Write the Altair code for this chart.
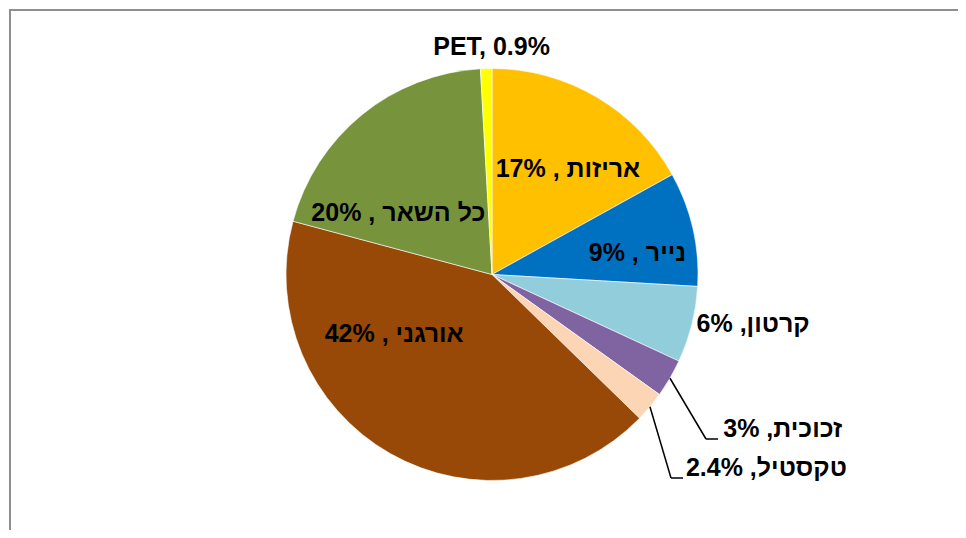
import math
import altair as alt
import pandas as pd

# ---- data ----
categories = ["אריזות", "נייר", "קרטון", "זכוכית", "טקסטיל", "אורגני", "כל השאר", "PET"]
values = [17, 9, 6, 3, 2.4, 42, 20, 0.9]
label_texts = [
    "17% , אריזות",
    "9% , נייר",
    "6% ,קרטון",
    "3% ,זכוכית",
    "2.4% ,טקסטיל",
    "42% , אורגני",
    "20% , כל השאר",
    "PET, 0.9%",
]
colors = ["#FFC000", "#0070C0", "#92CDDC", "#8064A2", "#FCD5B5", "#984807", "#77933C", "#FFFF00"]

# ---- layout ----
W, H = 950, 522
CX, CY, R = 483, 265.5, 206
FONT = "Liberation Sans"
FS = 25
# label placement: (radius from centre along slice mid-angle, dx, dy)
label_pos = {
    "אריזות": (120, 15, -2),
    "נייר": (145, 4, 11),
    "קרטון": (262, 7, -14),
    "זכוכית": (230, 92, 39),
    "טקסטיל": (230, 98, 46),
    "אורגני": (115, -41, -40),
    "כל השאר": (112, -23, 25),
    "PET": (228, 6, 0),
}
# leader lines: corner and end points (chart coords)
leaders = {
    "זכוכית": ((697, 430), (709, 430)),
    "טקסטיל": ((662, 469), (674, 469)),
}

df = pd.DataFrame({
    "category": categories,
    "value": values,
    "label": label_texts,
    "order": list(range(len(categories))),
})
total = float(sum(values))

base = alt.Chart(df)

pie = base.mark_arc(outerRadius=R, stroke="white", strokeWidth=0.6).encode(
    theta=alt.Theta("value:Q", stack=True, scale=alt.Scale(domain=[0, total])),
    color=alt.Color("category:N", scale=alt.Scale(domain=categories, range=colors), legend=None),
    order=alt.Order("order:Q"),
    x=alt.value(CX),
    y=alt.value(CY),
)

layers = []

# frame (top and left edges)
one = alt.Chart(pd.DataFrame({"a": [0]}))
layers.append(one.mark_rule(color="#8f8f8f", strokeWidth=2).encode(
    x=alt.value(0), x2=alt.value(W), y=alt.value(1), y2=alt.value(1)))
layers.append(one.mark_rule(color="#8f8f8f", strokeWidth=2).encode(
    x=alt.value(1), x2=alt.value(1), y=alt.value(0), y2=alt.value(H)))

layers.append(pie)

# leader lines computed from slice mid-angles
cum = 0.0
mids = {}
for c, v in zip(categories, values):
    mids[c] = (cum + v / 2) / total * 2 * math.pi
    cum += v
for c, (corner, end) in leaders.items():
    a = mids[c]
    sx, sy = CX + R * math.sin(a), CY - R * math.cos(a)
    layers.append(one.mark_rule(color="black", strokeWidth=1.5).encode(
        x=alt.value(sx), y=alt.value(sy), x2=alt.value(corner[0]), y2=alt.value(corner[1])))
    layers.append(one.mark_rule(color="black", strokeWidth=1.5).encode(
        x=alt.value(corner[0]), y=alt.value(corner[1]), x2=alt.value(end[0]), y2=alt.value(end[1])))

for c in categories:
    r, dx, dy = label_pos[c]
    layers.append(
        base.transform_window(cum="sum(value)", sort=[alt.SortField("order")], frame=[None, 0])
        .transform_calculate(mid="datum.cum - datum.value / 2")
        .transform_filter(alt.datum.category == c)
        .mark_text(radius=r, dx=dx, dy=dy, font=FONT, fontSize=FS, fontWeight="bold",
                   color="black", align="center", baseline="middle")
        .encode(
            theta=alt.Theta("mid:Q", scale=alt.Scale(domain=[0, total])),
            text="label:N",
            x=alt.value(CX),
            y=alt.value(CY),
        )
    )

chart = alt.layer(*layers).resolve_scale(theta="independent").properties(
    width=W, height=H, padding=0,
    autosize=alt.AutoSizeParams(type="fit", contains="padding"),
    background="white",
).configure_view(stroke=None)

chart.save("out.html", embed_options={"renderer": "svg", "actions": False})
